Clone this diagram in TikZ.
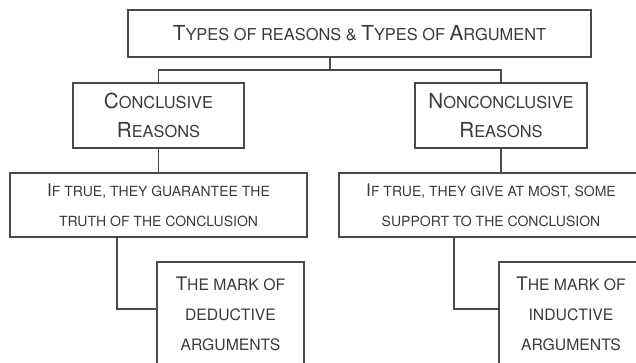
\documentclass[tikz,border=0pt]{standalone}
\usepackage{fontspec}
\setmainfont{TeX Gyre Heros}
\usepackage{tikz}
\definecolor{lineGray}{HTML}{4A4A4A}
\definecolor{textGray}{HTML}{3A3A3A}
% capitals set smaller, for the small-cap look
\newcommand\smcsize{10.5}
\newcommand\smc[1]{{\fontsize{\smcsize}{22.5}\selectfont\MakeUppercase{#1}}}

\begin{document}
\begin{tikzpicture}[x=0.75pt,y=-0.75pt,
    box/.style={draw=lineGray,line width=1.1pt,text=textGray,align=center,inner sep=0pt,
      font=\fontsize{13}{22.5}\selectfont},
    big/.style={font=\fontsize{15.5}{22}\selectfont\def\smcsize{12.3}},
    mid/.style={font=\fontsize{14}{22.5}\selectfont\def\smcsize{11.8}},
    link/.style={draw=lineGray,line width=1.1pt}]
    \clip (0,0) rectangle (636,363);
    % boxes
    \node[box,big,minimum width=347.25pt,minimum height=35.25pt] (types) at (359.5,33.5)
      {T\smc{ypes of reasons \& }T\smc{ypes of }A\smc{rgument}};
    \node[box,big,minimum width=128.25pt,minimum height=48.75pt] (conc) at (158.5,115.5)
      {C\smc{onclusive}\\R\smc{easons}};
    \node[box,big,minimum width=129pt,minimum height=48.75pt] (nonconc) at (501,115.5)
      {N\smc{onconclusive}\\R\smc{easons}};
    \node[box,minimum width=222.75pt,minimum height=48pt] (guar) at (158.5,205)
      {I\smc{f true, they guarantee the}\\\smc{truth of the conclusion}};
    \node[box,minimum width=228pt,minimum height=48pt] (supp) at (491,205)
      {I\smc{f true, they give at most, some}\\\smc{support to the conclusion}};
    \node[box,mid,minimum width=110.25pt,minimum height=78pt] (deduct) at (230.5,314)
      {T\smc{he mark of}\\\smc{deductive}\\\smc{arguments}};
    \node[box,mid,minimum width=108pt,minimum height=78pt] (induct) at (571,314)
      {T\smc{he mark of}\\\smc{inductive}\\\smc{arguments}};
    % connectors
    \coordinate (fork) at (330,70);
    \draw[link] (fork |- types.south) -- (fork);
    \draw[link] (conc.north) |- (fork) -| (nonconc.north);
    \draw[link] (conc) -- (guar);
    \draw[link] (nonconc.south) -- (nonconc.south |- supp.north);
    \draw[link] ([xshift=-31.125pt]guar.south) |- ([yshift=3.75pt]deduct.west);
    \draw[link] ([xshift=-27.75pt]supp.south) |- ([yshift=3.75pt]induct.west);
\end{tikzpicture}
\end{document}
